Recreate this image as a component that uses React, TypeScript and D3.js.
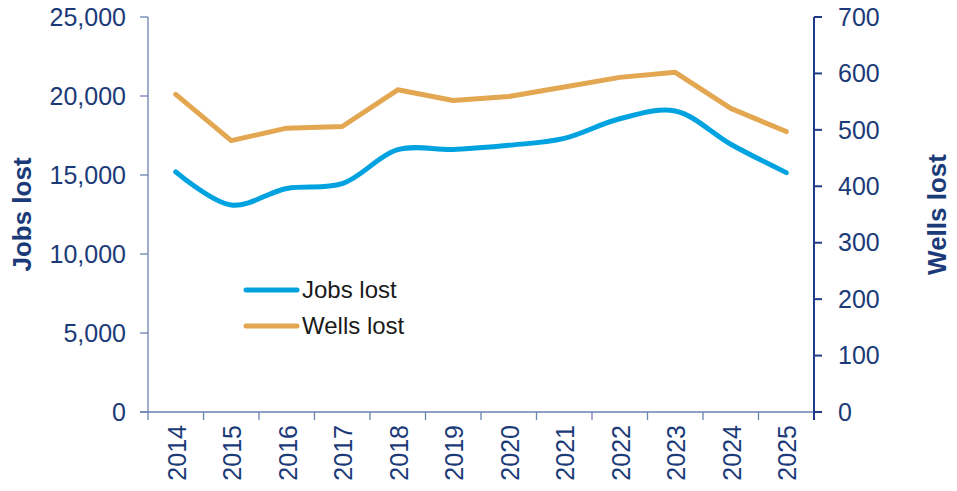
import React from "react";
import * as d3 from "d3";

const years = ["2014","2015","2016","2017","2018","2019","2020","2021","2022","2023","2024","2025"];
const jobsLost = [15200, 13100, 14150, 14450, 16600, 16620, 16880, 17320, 18560, 19050, 16950, 15150];
const wellsLost = [563, 481, 503, 506, 571, 552, 559, 576, 593, 602, 538, 497];
const leftTicks = [0, 5000, 10000, 15000, 20000, 25000];
const rightTicks = [0, 100, 200, 300, 400, 500, 600, 700];

const W = 957, H = 491;
const L = 148, R = 814, T = 17, B = 412;
const TEXT = "#1B3A78";
const FONT = "Arial, 'Liberation Sans', sans-serif";

export default function App() {
  const x = d3.scaleBand().domain(years).range([L, R]).padding(0);
  const yL = d3.scaleLinear().domain([0, 25000]).range([B, T]);
  const yR = d3.scaleLinear().domain([0, 700]).range([B, T]);
  const cx = (d: string) => (x(d) as number) + x.bandwidth() / 2;

  const jobsLine = d3.line<number>().x((_, i) => cx(years[i])).y(d => yL(d)).curve(d3.curveCatmullRom.alpha(0.5));
  const wellsLine = d3.line<number>().x((_, i) => cx(years[i])).y(d => yR(d));
  const fmt = d3.format(",");

  return (
    <svg width={W} height={H} style={{ position: "absolute", left: 0, top: 0 }} fontFamily={FONT}>
      <rect width={W} height={H} fill="#fff" />
      {/* left axis */}
      <line x1={L} x2={L} y1={T} y2={B + 8} stroke="#6A82B0" strokeWidth={1.3} />
      {leftTicks.map(t => (
        <g key={t}>
          <line x1={L - 8} x2={L} y1={yL(t)} y2={yL(t)} stroke="#6A82B0" strokeWidth={1.3} />
          <text x={126} y={yL(t)} dy="0.35em" textAnchor="end" fontSize={25} fill={TEXT}>{fmt(t)}</text>
        </g>
      ))}
      <text transform={`translate(31,${(T + B) / 2}) rotate(-90)`} textAnchor="middle" fontSize={26} fontWeight="bold" fill={TEXT}>Jobs lost</text>
      {/* x axis */}
      <line x1={L - 8} x2={R} y1={B} y2={B} stroke="#6A82B0" strokeWidth={1.3} />
      {years.map(y => (
        <line key={"t" + y} x1={(x(y) as number) + x.bandwidth()} x2={(x(y) as number) + x.bandwidth()} y1={B} y2={B + 8} stroke="#6A82B0" strokeWidth={1.3} />
      ))}
      {years.map(y => (
        <text key={y} transform={`translate(${cx(y) + 1},${B + 13}) rotate(-90)`} textAnchor="end" dy="0.35em" fontSize={25} fill={TEXT}>{y}</text>
      ))}
      {/* right axis */}
      <line x1={R} x2={R} y1={T} y2={B + 8} stroke="#1F3C88" strokeWidth={2} />
      {rightTicks.map(t => (
        <g key={t}>
          <line x1={R} x2={R + 8} y1={yR(t)} y2={yR(t)} stroke="#1F3C88" strokeWidth={2} />
          <text x={838} y={yR(t)} dy="0.35em" textAnchor="start" fontSize={25} fill={TEXT}>{t}</text>
        </g>
      ))}
      <text transform={`translate(946,${(T + B) / 2}) rotate(-90)`} textAnchor="middle" fontSize={26} fontWeight="bold" fill={TEXT}>Wells lost</text>
      {/* lines */}
      <path d={wellsLine(wellsLost) || ""} fill="none" stroke="#E3A752" strokeWidth={5} strokeLinecap="round" strokeLinejoin="round" />
      <path d={jobsLine(jobsLost) || ""} fill="none" stroke="#00A3E0" strokeWidth={5} strokeLinecap="round" strokeLinejoin="round" />
      {/* legend */}
      <line x1={246} x2={297} y1={290} y2={290} stroke="#00A3E0" strokeWidth={5} strokeLinecap="round" />
      <text x={302} y={290} dy="0.35em" fontSize={24} fill="#1a1a1a">Jobs lost</text>
      <line x1={246} x2={297} y1={326} y2={326} stroke="#E3A752" strokeWidth={5} strokeLinecap="round" />
      <text x={302} y={326} dy="0.35em" fontSize={24} fill="#1a1a1a">Wells lost</text>
    </svg>
  );
}
